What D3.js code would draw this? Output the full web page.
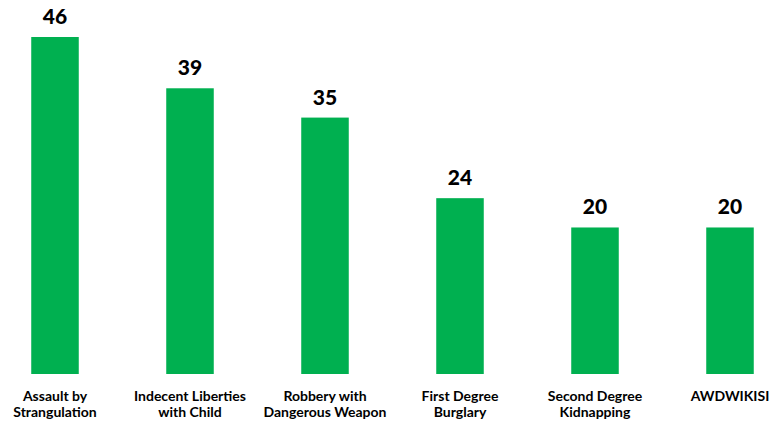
<!DOCTYPE html>
<html><head><meta charset="utf-8">
<script src="https://cdn.jsdelivr.net/npm/d3@7"></script>
<style>body{margin:0;background:#fff}svg{display:block}</style>
</head><body><svg id="c" width="781" height="422"></svg>
<script>
const categories = [
  ["Assault by", "Strangulation"],
  ["Indecent Liberties", "with Child"],
  ["Robbery with", "Dangerous Weapon"],
  ["First Degree", "Burglary"],
  ["Second Degree", "Kidnapping"],
  ["AWDWIKISI"]
];
const values = [46, 39, 35, 24, 20, 20];

const svg = d3.select("#c");
const x = d3.scaleBand().domain(d3.range(categories.length))
  .range([-12.5, 797.5]).paddingInner(0.648).paddingOuter(0.324);
const y = d3.scaleLinear().domain([0, 46]).range([374, 37]);

svg.selectAll("rect.bar").data(values).join("rect")
  .attr("class", "bar")
  .attr("x", (d, i) => x(i)).attr("width", x.bandwidth())
  .attr("y", d => y(d)).attr("height", d => y(0) - y(d))
  .attr("fill", "#00B050");

svg.selectAll("text.val").data(values).join("text")
  .attr("class", "val")
  .attr("x", (d, i) => x(i) + x.bandwidth() / 2)
  .attr("y", d => y(d) - 13)
  .attr("text-anchor", "middle")
  .attr("font-family", "Lato, sans-serif").attr("font-weight", "900")
  .attr("font-size", 21).attr("fill", "#000")
  .text(d => d);

const lab = svg.selectAll("text.cat").data(categories).join("text")
  .attr("class", "cat")
  .attr("x", (d, i) => x(i) + x.bandwidth() / 2)
  .attr("y", 401)
  .attr("text-anchor", "middle")
  .attr("font-family", "Lato, sans-serif").attr("font-weight", "bold")
  .attr("font-size", 14).attr("fill", "#000");
lab.selectAll("tspan").data(d => d).join("tspan")
  .attr("x", function () { return d3.select(this.parentNode).attr("x"); })
  .attr("dy", (d, i) => i === 0 ? 0 : 15.5)
  .text(d => d);
</script></body></html>
